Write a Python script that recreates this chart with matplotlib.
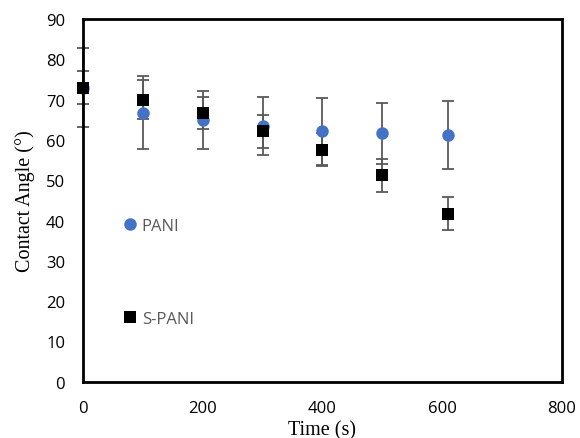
import matplotlib
matplotlib.use("Agg")
import matplotlib.pyplot as plt

# Data
time_s = [0, 100, 200, 300, 400, 500, 610]
pani = [73.0, 66.8, 65.0, 63.5, 62.1, 61.6, 61.3]
pani_err = [9.8, 9.1, 7.2, 7.2, 8.3, 7.6, 8.4]
spani = [73.0, 70.0, 66.6, 62.1, 57.6, 51.2, 41.7]
spani_err = [4.1, 4.8, 4.0, 4.1, 4.0, 4.1, 4.1]
x_ticks = [0, 200, 400, 600, 800]
y_ticks = [0, 10, 20, 30, 40, 50, 60, 70, 80, 90]

fig = plt.figure(figsize=(5.8, 4.39), dpi=100)
ax = fig.add_axes([0.1436, 0.1282, 0.9684 - 0.1436, 0.9544 - 0.1282])

err_col = "#595959"
for vals, errs in ((pani, pani_err), (spani, spani_err)):
    eb = ax.errorbar(time_s, vals, yerr=errs, fmt="none", ecolor=err_col,
                     elinewidth=1.3, capsize=4, capthick=1.3, zorder=2)
    for art in eb.lines[1] + eb.lines[2]:
        art.set_clip_on(False)
ax.plot(time_s, pani, "o", color="#4472C4", markersize=9, markeredgewidth=0,
        label="PANI", zorder=3, clip_on=False)
ax.plot(time_s, spani, "s", color="black", markersize=8.8, markeredgewidth=0,
        label="S-PANI", zorder=4, clip_on=False)

ax.set_xlim(0, 800)
ax.set_ylim(0, 90)
ax.set_xticks(x_ticks)
ax.set_yticks(y_ticks)
tick_font = dict(family="Open Sans", size=12)
ax.set_xticklabels([str(v) for v in x_ticks], **tick_font)
ax.set_yticklabels([str(v) for v in y_ticks], **tick_font)
ax.tick_params(axis="both", length=0)
ax.tick_params(axis="x", pad=13)
ax.tick_params(axis="y", pad=13)
for s in ax.spines.values():
    s.set_linewidth(2.0)
    s.set_color("black")
    s.set_zorder(5)

ax.set_xlabel("Time (s)", family="Liberation Serif", size=14.5, labelpad=3)
ax.set_ylabel("Contact Angle (°)", family="Liberation Serif", size=14.5, labelpad=8)

leg = ax.legend(loc="upper left", bbox_to_anchor=(0.07, 0.47), frameon=False,
                handlelength=0.8, handletextpad=0.3, labelspacing=4.6,
                prop=dict(family="Open Sans", size=12), borderaxespad=0)
for t in leg.get_texts():
    t.set_color("#595959")

fig.savefig("out.png", dpi=100)
